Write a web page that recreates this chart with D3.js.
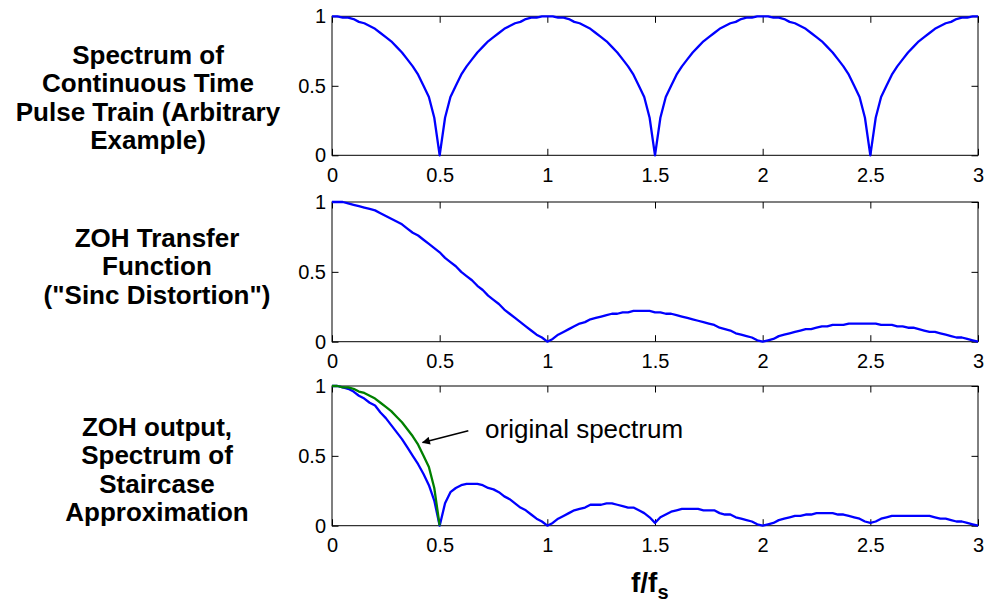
<!DOCTYPE html>
<html>
<head>
<meta charset="utf-8">
<script src="https://cdn.jsdelivr.net/npm/d3@7"></script>
<style>
body { margin: 0; background: #fff; }
svg { font-family: "Liberation Sans", Arial, Helvetica, sans-serif; }
</style>
</head>
<body>
<script>
// sample frequencies f/fs
var freq = [0,0.025,0.05,0.075,0.1,0.125,0.15,0.175,0.2,0.225,0.25,0.275,0.3,0.325,0.35,0.375,0.4,0.425,0.45,0.475,
  0.5,0.525,0.55,0.575,0.6,0.625,0.65,0.675,0.7,0.725,0.75,0.775,0.8,0.825,0.85,0.875,0.9,0.925,0.95,0.975,
  1,1.025,1.05,1.075,1.1,1.125,1.15,1.175,1.2,1.225,1.25,1.275,1.3,1.325,1.35,1.375,1.4,1.425,1.45,1.475,
  1.5,1.525,1.55,1.575,1.6,1.625,1.65,1.675,1.7,1.725,1.75,1.775,1.8,1.825,1.85,1.875,1.9,1.925,1.95,1.975,
  2,2.025,2.05,2.075,2.1,2.125,2.15,2.175,2.2,2.225,2.25,2.275,2.3,2.325,2.35,2.375,2.4,2.425,2.45,2.475,
  2.5,2.525,2.55,2.575,2.6,2.625,2.65,2.675,2.7,2.725,2.75,2.775,2.8,2.825,2.85,2.875,2.9,2.925,2.95,2.975,3];

// top panel: spectrum of the pulse train
var pulseSpectrum = [1.00,1.00,0.99,0.99,0.98,0.96,0.95,0.93,0.91,0.88,0.85,0.82,0.78,0.74,0.69,0.64,0.58,0.50,0.42,0.27,
  0,0.27,0.42,0.50,0.58,0.64,0.69,0.74,0.78,0.82,0.85,0.88,0.91,0.93,0.95,0.96,0.98,0.99,0.99,1.00,
  1.00,1.00,0.99,0.99,0.98,0.96,0.95,0.93,0.91,0.88,0.85,0.82,0.78,0.74,0.69,0.64,0.58,0.50,0.42,0.27,
  0,0.27,0.42,0.50,0.58,0.64,0.69,0.74,0.78,0.82,0.85,0.88,0.91,0.93,0.95,0.96,0.98,0.99,0.99,1.00,
  1.00,1.00,0.99,0.99,0.98,0.96,0.95,0.93,0.91,0.88,0.85,0.82,0.78,0.74,0.69,0.64,0.58,0.50,0.42,0.27,
  0,0.27,0.42,0.50,0.58,0.64,0.69,0.74,0.78,0.82,0.85,0.88,0.91,0.93,0.95,0.96,0.98,0.99,0.99,1.00,1.00];

// middle panel: ZOH transfer function
var zohTransfer = [1.00,1.00,1.00,0.99,0.98,0.97,0.96,0.95,0.94,0.92,0.90,0.88,0.86,0.84,0.81,0.78,0.76,0.73,0.70,0.67,
  0.64,0.60,0.57,0.54,0.50,0.47,0.44,0.40,0.37,0.33,0.30,0.27,0.23,0.20,0.17,0.14,0.11,0.08,0.05,0.03,
  0,0.02,0.05,0.07,0.09,0.11,0.13,0.14,0.16,0.17,0.18,0.19,0.20,0.20,0.21,0.21,0.22,0.22,0.22,0.22,
  0.21,0.21,0.20,0.20,0.19,0.18,0.17,0.16,0.15,0.14,0.13,0.12,0.10,0.09,0.08,0.06,0.05,0.04,0.03,0.01,
  0,0.01,0.02,0.04,0.05,0.06,0.07,0.08,0.09,0.09,0.10,0.11,0.11,0.12,0.12,0.12,0.13,0.13,0.13,0.13,
  0.13,0.13,0.12,0.12,0.12,0.11,0.11,0.10,0.10,0.09,0.08,0.07,0.07,0.06,0.05,0.04,0.03,0.03,0.02,0.01,0];

// bottom panel: ZOH output
var zohOutput = [1.00,1.00,0.99,0.98,0.96,0.93,0.91,0.88,0.86,0.81,0.77,0.72,0.67,0.62,0.56,0.50,0.44,0.37,0.29,0.18,
  0,0.16,0.24,0.27,0.29,0.30,0.30,0.30,0.29,0.27,0.26,0.24,0.21,0.19,0.16,0.13,0.11,0.08,0.05,0.03,
  0,0.02,0.05,0.07,0.09,0.11,0.12,0.13,0.15,0.15,0.15,0.16,0.16,0.15,0.14,0.13,0.13,0.11,0.09,0.06,
  0.02,0.06,0.08,0.10,0.11,0.12,0.12,0.12,0.12,0.11,0.11,0.11,0.09,0.08,0.08,0.06,0.05,0.04,0.03,0.01,
  0,0.01,0.02,0.04,0.05,0.06,0.07,0.07,0.08,0.08,0.09,0.09,0.09,0.09,0.08,0.08,0.07,0.06,0.05,0.03,
  0.02,0.03,0.05,0.06,0.07,0.07,0.07,0.07,0.07,0.07,0.07,0.07,0.06,0.05,0.05,0.04,0.03,0.03,0.02,0.01,0];

// green overlay, first lobe only (f = 0 .. 0.5)
var originalSpectrum = [1.00,1.00,0.99,0.99,0.98,0.96,0.95,0.93,0.91,0.88,0.85,0.82,0.78,0.74,0.69,0.64,0.58,0.50,0.42,0.27,0];

var xTicks = [0, 0.5, 1, 1.5, 2, 2.5, 3];
var xTickLabels = ["0", "0.5", "1", "1.5", "2", "2.5", "3"];
var yTicks = [0, 0.5, 1];
var yTickLabels = ["0", "0.5", "1"];

var titleTop = ["Spectrum of", "Continuous Time", "Pulse Train (Arbitrary", "Example)"];
var titleMid = ["ZOH Transfer", "Function", "(\"Sinc Distortion\")"];
var titleBot = ["ZOH output,", "Spectrum of", "Staircase", "Approximation"];

// arrow annotation in data units of the bottom panel
var noteText = "original spectrum";
var noteAt = {f: 0.711, v: 0.627};
var arrowFrom = {f: 0.633, v: 0.68};
var arrowTo = {f: 0.421, v: 0.596};

var width = 985, height = 603;
var svg = d3.select("body").append("svg").attr("width", width).attr("height", height);

var x = d3.scaleLinear().domain([0, 3]).range([332, 978]);

var lineGap = 28.3;
var panels = [
  {top: 16.3, bottom: 155.3, title: titleTop, tx: 148, ty: 64,
   lines: [{f: freq, v: pulseSpectrum, color: "#0000ff"}]},
  {top: 202, bottom: 341.7, title: titleMid, tx: 157, ty: 247,
   lines: [{f: freq, v: zohTransfer, color: "#0000ff"}]},
  {top: 386, bottom: 525.7, title: titleBot, tx: 157, ty: 436,
   lines: [{f: freq, v: zohOutput, color: "#0000ff"},
           {f: freq.slice(0, originalSpectrum.length), v: originalSpectrum, color: "#008000"}]}
];

var tick = 6.5;

panels.forEach(function(p, k) {
  var y = d3.scaleLinear().domain([0, 1]).range([p.bottom, p.top]);
  var g = svg.append("g");

  // title, centered multi-line bold text
  var t = g.append("text")
      .attr("text-anchor", "middle")
      .attr("font-weight", "bold")
      .attr("font-size", 26);
  p.title.forEach(function(s, i) {
    t.append("tspan").attr("x", p.tx).attr("y", p.ty + i * lineGap).text(s);
  });

  var xb = d3.axisBottom(x).tickValues(xTicks)
      .tickFormat(function(d, i) { return xTickLabels[i]; })
      .tickSizeInner(-tick).tickSizeOuter(0).tickPadding(12.5);
  var xt = d3.axisTop(x).tickValues(xTicks).tickFormat("")
      .tickSizeInner(-tick).tickSizeOuter(0);
  var yl = d3.axisLeft(y).tickValues(yTicks)
      .tickFormat(function(d, i) { return yTickLabels[i]; })
      .tickSizeInner(-tick).tickSizeOuter(0).tickPadding(6);
  var yr = d3.axisRight(y).tickValues(yTicks).tickFormat("")
      .tickSizeInner(-tick).tickSizeOuter(0);

  var axes = [
    g.append("g").attr("transform", "translate(0," + p.bottom + ")").call(xb),
    g.append("g").attr("transform", "translate(0," + p.top + ")").call(xt),
    g.append("g").attr("transform", "translate(" + x(0) + ",0)").call(yl),
    g.append("g").attr("transform", "translate(" + x(3) + ",0)").call(yr)
  ];
  axes.forEach(function(a) {
    a.select(".domain").remove();
    a.attr("font-family", null).attr("font-size", 20);
    a.selectAll("line").attr("stroke", "#000");
    a.selectAll("text").attr("fill", "#000");
  });

  g.append("rect")
    .attr("x", x(0)).attr("y", p.top)
    .attr("width", x(3) - x(0)).attr("height", p.bottom - p.top)
    .attr("fill", "none").attr("stroke", "#000").attr("stroke-width", 1);

  var line = d3.line()
      .x(function(d) { return x(d[0]); })
      .y(function(d) { return y(d[1]); });

  p.lines.forEach(function(s) {
    g.append("path")
      .attr("d", line(d3.zip(s.f, s.v)))
      .attr("fill", "none")
      .attr("stroke", s.color)
      .attr("stroke-width", 2.3)
      .attr("stroke-linejoin", "round");
  });

  if (k == 2) {
    svg.append("defs").append("marker")
        .attr("id", "head").attr("viewBox", "0 0 10 10")
        .attr("refX", 9).attr("refY", 5)
        .attr("markerWidth", 9).attr("markerHeight", 8)
        .attr("markerUnits", "userSpaceOnUse")
        .attr("orient", "auto")
      .append("path").attr("d", "M0,0 L10,5 L0,10 z").attr("fill", "#000");
    g.append("line")
      .attr("x1", x(arrowFrom.f)).attr("y1", y(arrowFrom.v))
      .attr("x2", x(arrowTo.f)).attr("y2", y(arrowTo.v))
      .attr("stroke", "#000").attr("stroke-width", 1.5)
      .attr("marker-end", "url(#head)");
    g.append("text")
      .attr("x", x(noteAt.f)).attr("y", y(noteAt.v))
      .attr("font-size", 26)
      .text(noteText);
  }
});

// x axis label f/fs
var xl = svg.append("text")
    .attr("x", 631).attr("y", 592)
    .attr("font-weight", "bold").attr("font-size", 28);
xl.append("tspan").text("f/f");
xl.append("tspan").attr("font-size", 20).attr("dy", 7).text("s");
</script>
</body>
</html>
